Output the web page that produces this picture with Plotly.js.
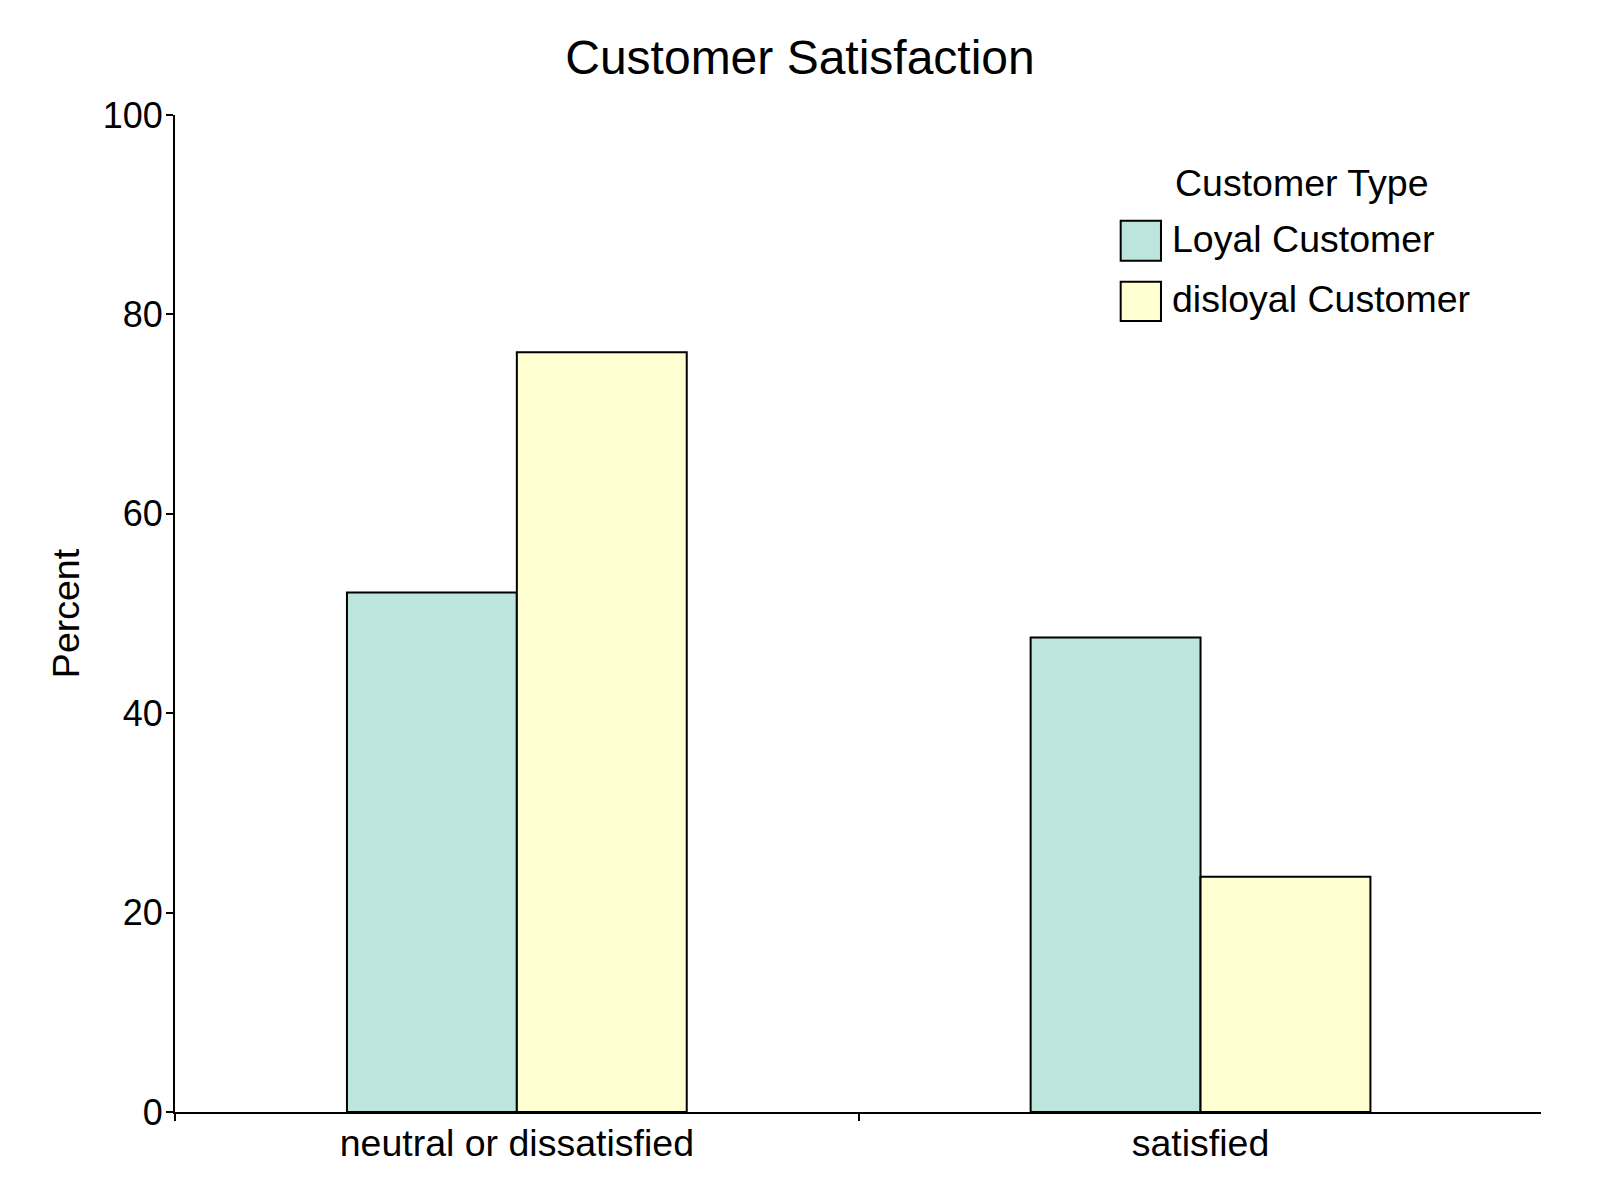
<!DOCTYPE html>
<html>
<head>
<meta charset="utf-8">
<script src="https://cdn.plot.ly/plotly-3.0.1.min.js"></script>
<style>
  html, body { margin: 0; padding: 0; background: #ffffff; }
  #chart { width: 1600px; height: 1200px; }
</style>
</head>
<body>
<div id="chart"></div>
<script>
// Satisfaction categories on the x axis
const categories = ["neutral or dissatisfied", "satisfied"];

// Customer types (legend entries)
const seriesNames = ["Loyal Customer", "disloyal Customer"];

// Percent of each customer type per satisfaction category
const loyalPercent = [52.1, 47.6];
const disloyalPercent = [76.2, 23.6];

const seriesValues = [loyalPercent, disloyalPercent];
const seriesColors = ["#bbe5dd", "#ffffd1"];

const FONT = "Liberation Sans, Arial, Helvetica, sans-serif";

const traces = seriesValues.map((vals, i) => ({
  type: "bar",
  name: seriesNames[i],
  x: categories,
  y: vals,
  marker: { color: seriesColors[i], line: { color: "#000000", width: 2 } },
  showlegend: false,
  hoverinfo: "x+y+name"
}));

// Hand-drawn legend: large outlined swatches with labels
const swatchX = [0.6923, 0.7218];
const swatchY = [[0.8539, 0.8940], [0.7934, 0.8328]];
const labelY = [0.8756, 0.8154];

const shapes = seriesNames.map((n, i) => ({
  type: "rect", xref: "paper", yref: "paper",
  x0: swatchX[0], x1: swatchX[1], y0: swatchY[i][0], y1: swatchY[i][1],
  fillcolor: seriesColors[i], line: { color: "#000000", width: 2 }
}));

const annotations = seriesNames.map((n, i) => ({
  xref: "paper", yref: "paper", x: 0.7285, y: labelY[i],
  xanchor: "left", yanchor: "middle", showarrow: false,
  text: n, font: { family: FONT, size: 37.5, color: "#000000" }
}));
annotations.push({
  xref: "paper", yref: "paper", x: 0.8250, y: 0.9318,
  xanchor: "center", yanchor: "middle", showarrow: false,
  text: "Customer Type", font: { family: FONT, size: 37.5, color: "#000000" }
});

const layout = {
  width: 1600,
  height: 1200,
  paper_bgcolor: "#ffffff",
  plot_bgcolor: "#ffffff",
  font: { family: FONT, color: "#000000" },
  margin: { l: 175, r: 59, t: 115, b: 88, pad: 0 },
  title: {
    text: "Customer Satisfaction",
    font: { family: FONT, size: 48, color: "#000000" },
    x: 0.5, xanchor: "center", xref: "container",
    y: 58, yref: "container", yanchor: "middle"
  },
  barmode: "group",
  bargap: 0.503,
  bargroupgap: 0.0,
  xaxis: {
    type: "category",
    range: [-0.5, 1.498],
    showgrid: false,
    zeroline: false,
    showline: true,
    linecolor: "#000000",
    linewidth: 2,
    ticks: "outside",
    tickson: "boundaries",
    ticklen: 7,
    tickwidth: 1.5,
    tickcolor: "#000000",
    ticklabelstandoff: -3,
    tickfont: { family: FONT, size: 37.5, color: "#000000" }
  },
  yaxis: {
    range: [0, 100],
    tickvals: [0, 20, 40, 60, 80, 100],
    showgrid: false,
    zeroline: false,
    showline: true,
    linecolor: "#000000",
    linewidth: 2,
    ticks: "outside",
    ticklen: 7,
    tickwidth: 1.5,
    tickcolor: "#000000",
    ticklabelstandoff: -4,
    tickfont: { family: FONT, size: 36, color: "#000000" },
    title: {
      text: "Percent",
      font: { family: FONT, size: 37.5, color: "#000000" },
      standoff: 12
    }
  },
  shapes: shapes,
  annotations: annotations
};

Plotly.newPlot("chart", traces, layout, { displayModeBar: false, responsive: false });
</script>
</body>
</html>
